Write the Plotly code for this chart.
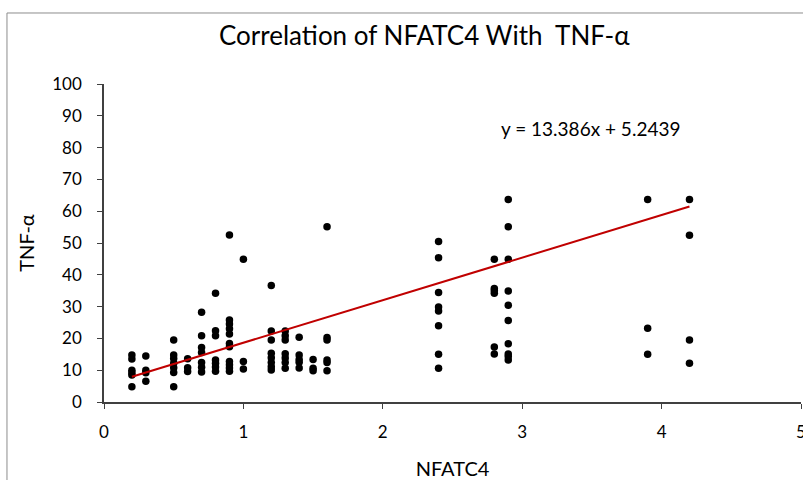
import plotly.graph_objects as go

# NFATC4 columns and TNF-alpha values
nfatc4_levels = [0.2, 0.3, 0.5, 0.6, 0.7, 0.8, 0.9, 1.0, 1.2, 1.3, 1.4, 1.5, 1.6, 2.4, 2.8, 2.9, 3.9, 4.2]
tnf_by_level = [
    [14.8, 13.5, 10.0, 9.2, 8.5, 4.8],
    [14.5, 10.0, 9.2, 6.5],
    [19.5, 14.8, 13.7, 12.2, 10.8, 9.3, 4.8],
    [13.6, 10.8, 9.6],
    [28.2, 20.8, 17.1, 15.6, 12.4, 10.9, 9.4],
    [34.2, 22.4, 20.8, 13.2, 12.2, 11.0, 9.7],
    [52.5, 25.8, 24.5, 23.0, 21.4, 18.4, 17.4, 12.7, 11.7, 10.7, 9.7],
    [44.9, 12.7, 10.4],
    [36.6, 22.3, 19.5, 15.3, 13.9, 12.4, 11.1, 10.1],
    [22.3, 20.8, 19.5, 15.2, 13.8, 12.4, 10.6],
    [20.4, 14.8, 13.4, 12.5, 10.7],
    [13.4, 10.6, 9.8],
    [55.1, 20.3, 19.5, 13.2, 12.4, 9.8],
    [50.5, 45.4, 34.4, 29.9, 28.6, 24.0, 15.0, 10.6],
    [44.9, 35.7, 35.0, 34.2, 17.3, 15.1],
    [63.7, 55.1, 44.9, 34.9, 30.4, 25.6, 18.3, 15.1, 14.3, 13.2],
    [63.7, 23.2, 15.0],
    [63.7, 52.4, 19.5, 12.2],
]
trend_slope = 13.386
trend_intercept = 5.2439
x_ticks = [0, 1, 2, 3, 4, 5]
y_ticks = [0, 10, 20, 30, 40, 50, 60, 70, 80, 90, 100]

xs, ys = [], []
for lv, vals in zip(nfatc4_levels, tnf_by_level):
    for v in vals:
        xs.append(lv)
        ys.append(v)

x_min, x_max = min(xs), max(xs)
trend_x = [x_min, x_max]
trend_y = [trend_slope * v + trend_intercept for v in trend_x]

FONT = "Lato"
fig = go.Figure()
fig.add_trace(go.Scatter(x=xs, y=ys, mode="markers",
                         marker=dict(color="black", size=7.5), showlegend=False,
                         cliponaxis=False))
fig.add_trace(go.Scatter(x=trend_x, y=trend_y, mode="lines",
                         line=dict(color="#C00000", width=2), showlegend=False))

fig.add_annotation(x=3.49, y=86, xref="x", yref="y",
                   text=f"y = {trend_slope}x + {trend_intercept}", showarrow=False,
                   font=dict(family=FONT, size=19, color="black"))

fig.add_annotation(x=0.4605, y=1.155, xref="paper", yref="paper",
                   text="Correlation of NFATC4 With\u00a0 TNF-α", showarrow=False,
                   font=dict(family=FONT, size=26, color="black"), yanchor="middle")

# chart border
fig.add_shape(type="rect", xref="paper", yref="paper",
              x0=-0.1392, x1=1.2, y0=-0.4, y1=1.2233,
              line=dict(color="#8c8c8c", width=1), fillcolor="rgba(0,0,0,0)", layer="below")

fig.update_layout(
    width=803, height=480,
    margin=dict(l=104, r=2, t=84, b=78, autoexpand=False),
    paper_bgcolor="white", plot_bgcolor="white",
    font=dict(family=FONT, size=17, color="black"),
    xaxis=dict(range=[0, 5], tickvals=x_ticks, showgrid=False, zeroline=False,
               showline=True, linecolor="#404040", linewidth=1.5,
               ticks="outside", ticklen=5, tickcolor="#404040",
               ticklabeloverflow="allow", ticklabelstandoff=9, automargin=False,
               title=dict(text="NFATC4", font=dict(size=20), standoff=22)),
    yaxis=dict(range=[0, 100], tickvals=y_ticks, showgrid=False, zeroline=False,
               showline=True, linecolor="#404040", linewidth=1.5,
               ticks="outside", ticklen=5, tickcolor="#404040",
               ticklabelstandoff=12, automargin=False,
               title=dict(text="TNF-α", font=dict(size=20), standoff=12)),
)

fig.write_html("out.html", config={"displayModeBar": False},
               post_script="document.body.style.margin='0';")
